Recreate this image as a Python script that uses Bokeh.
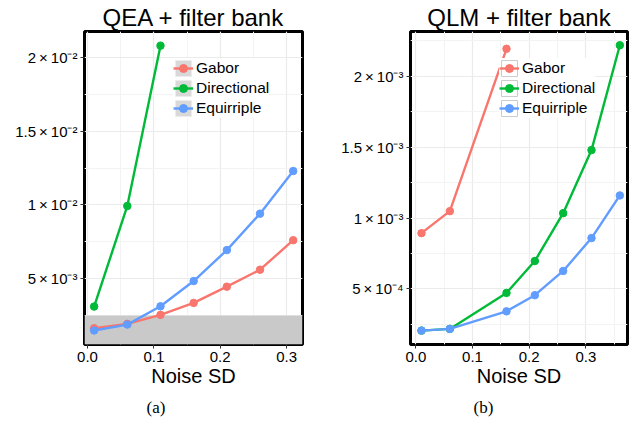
import math
from bokeh.plotting import figure
from bokeh.models import (FixedTicker, Legend, LegendItem, Title, BoxAnnotation,
                          ColumnDataSource, Range1d)
from bokeh.layouts import row
from bokeh.embed import file_html
from bokeh.resources import INLINE

# ---------------- data ----------------
series_names = ["Gabor", "Directional", "Equirriple"]
series_colors = ["#F8766D", "#00BA38", "#619CFF"]

# panel (a): QEA + filter bank
qea_noise_gabor = [0.01, 0.06, 0.11, 0.16, 0.21, 0.26, 0.31]
qea_gabor = [0.00164, 0.00194, 0.00255, 0.00336, 0.00446, 0.00561, 0.00761]
qea_noise_directional = [0.01, 0.06, 0.11]
qea_directional = [0.00311, 0.00993, 0.0208]
qea_noise_equirriple = [0.01, 0.06, 0.11, 0.16, 0.21, 0.26, 0.31]
qea_equirriple = [0.00149, 0.00189, 0.00313, 0.00484, 0.00694, 0.00941, 0.0123]
qea_shade_top = 0.0025

# panel (b): QLM + filter bank
qlm_noise_gabor = [0.01, 0.06, 0.16]
qlm_gabor = [0.000894, 0.001049, 0.002195]
qlm_noise_directional = [0.01, 0.06, 0.16, 0.21, 0.26, 0.31, 0.36]
qlm_directional = [0.000206, 0.000218, 0.000472, 0.000697, 0.001035, 0.00148, 0.00222]
qlm_noise_equirriple = [0.01, 0.06, 0.16, 0.21, 0.26, 0.31, 0.36]
qlm_equirriple = [0.000206, 0.000218, 0.000342, 0.000456, 0.000627, 0.000859, 0.00116]

# ticks
x_ticks = [0.0, 0.1, 0.2, 0.3]
x_tick_labels = ["0.0", "0.1", "0.2", "0.3"]
x_minor = [0.05, 0.15, 0.25, 0.35]
qea_y_ticks = [0.005, 0.01, 0.015, 0.02]
qea_y_labels = ["5\u2009\u00d7\u200910\u207b\u00b3", "1\u2009\u00d7\u200910\u207b\u00b2",
                "1.5\u2009\u00d7\u200910\u207b\u00b2", "2\u2009\u00d7\u200910\u207b\u00b2"]
qea_y_minor = [0.0025, 0.0075, 0.0125, 0.0175]
qlm_y_ticks = [0.0005, 0.001, 0.0015, 0.002]
qlm_y_labels = ["5\u2009\u00d7\u200910\u207b\u2074", "1\u2009\u00d7\u200910\u207b\u00b3",
                "1.5\u2009\u00d7\u200910\u207b\u00b3", "2\u2009\u00d7\u200910\u207b\u00b3"]
qlm_y_minor = [0.00025, 0.00075, 0.00125, 0.00175, 0.00225]

FONT = "Liberation Sans"
H = 425
BT = 30
BB = 81


def make_panel(title, caption, caption_offset, width, bl, br, xr, yr,
               yticks, ylabels, yminor, xs, ys, key_fill, key_line, shade=None):
    p = figure(width=width, height=H, x_range=Range1d(*xr), y_range=Range1d(*yr),
               output_backend="svg", toolbar_location=None,
               min_border_left=bl, min_border_right=br,
               min_border_top=BT, min_border_bottom=BB)
    p.background_fill_color = "white"
    p.border_fill_color = "white"
    p.outline_line_color = "black"
    p.outline_line_width = 3

    p.title.text = title
    p.title.align = "center"
    p.title.text_font = FONT
    p.title.text_font_size = "24px"
    p.title.text_font_style = "normal"
    p.title.text_color = "black"
    p.title.standoff = 2

    p.add_layout(Title(text=caption, align="left", offset=caption_offset,
                       text_font="Liberation Serif", text_font_size="17px",
                       text_font_style="normal", text_color="black",
                       standoff=12), "below")

    p.xaxis.ticker = FixedTicker(ticks=x_ticks, minor_ticks=x_minor)
    p.xaxis.major_label_overrides = dict(zip(x_ticks, x_tick_labels))
    p.yaxis.ticker = FixedTicker(ticks=yticks, minor_ticks=yminor)
    p.yaxis.major_label_overrides = dict(zip(yticks, ylabels))
    for ax in (p.xaxis, p.yaxis):
        ax.axis_line_color = None
        ax.major_tick_in = 0
        ax.major_tick_out = 4
        ax.major_tick_line_color = "#333333"
        ax.minor_tick_line_color = None
        ax.major_label_text_font = FONT
        ax.major_label_text_font_size = "15px"
        ax.major_label_text_color = "black"
        ax.major_label_standoff = 3
    p.xaxis.axis_label = "Noise SD"
    p.xaxis.axis_label_text_font = FONT
    p.xaxis.axis_label_text_font_size = "20px"
    p.xaxis.axis_label_text_font_style = "normal"
    p.xaxis.axis_label_text_color = "black"
    p.xaxis.axis_label_standoff = 0

    for g in (p.xgrid, p.ygrid):
        g.grid_line_color = "#ebebeb"
        g.grid_line_width = 1.2
        g.minor_grid_line_color = "#f3f3f3"
        g.minor_grid_line_width = 1

    if shade is not None:
        p.add_layout(BoxAnnotation(top=shade, fill_color="#c9c9c9", fill_alpha=1,
                                   line_color=None, level="underlay"))

    items = []
    for name, color, x, y in zip(series_names, series_colors, xs, ys):
        # legend key background (NaN geometry: nothing drawn in the plot area)
        key_bg = p.quad(left=[math.nan], right=[math.nan], top=[math.nan],
                        bottom=[math.nan], fill_color=key_fill,
                        line_color=key_line, line_width=1)
        src = ColumnDataSource(dict(x=x, y=y))
        ln = p.line("x", "y", source=src, line_color=color, line_width=2.4)
        sc = p.scatter("x", "y", source=src, size=7.5, fill_color=color,
                       line_color=color)
        items.append(LegendItem(label=name, renderers=[key_bg, ln, sc]))

    frame_h = H - BT - BB
    legend = Legend(items=items, location=(89, frame_h - 26 - 62),
                    glyph_width=20, glyph_height=20, spacing=0, padding=1,
                    label_standoff=3, label_text_font=FONT,
                    label_text_font_size="15.5px", label_text_color="black",
                    label_height=19,
                    background_fill_color="white", background_fill_alpha=1,
                    border_line_color=None)
    p.add_layout(legend)
    return p


p1 = make_panel("QEA + filter bank", "(a)", 62, 332, 84, 30,
                (-0.0045, 0.324), (0.00054, 0.02176),
                qea_y_ticks, qea_y_labels, qea_y_minor,
                [qea_noise_gabor, qea_noise_directional, qea_noise_equirriple],
                [qea_gabor, qea_directional, qea_equirriple],
                "#d9d9d9", "#ececec", shade=qea_shade_top)

p2 = make_panel("QLM + filter bank", "(b)", 63, 297, 78, 2,
                (-0.0094, 0.3735), (0.000108, 0.002317),
                qlm_y_ticks, qlm_y_labels, qlm_y_minor,
                [qlm_noise_gabor, qlm_noise_directional, qlm_noise_equirriple],
                [qlm_gabor, qlm_directional, qlm_equirriple],
                "white", "#cccccc")

layout = row(p1, p2)
open("out.html", "w").write(file_html(layout, INLINE))
